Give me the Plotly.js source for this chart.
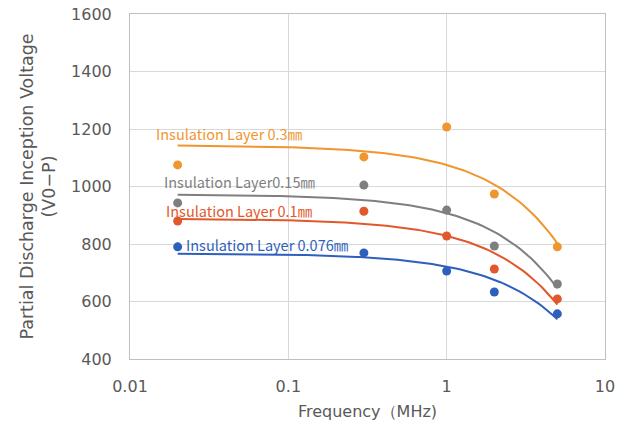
<!DOCTYPE html>
<html><head><meta charset="utf-8">
<script src="https://cdn.plot.ly/plotly-3.0.1.min.js"></script>
<style>body{margin:0;background:#fff}#c{width:630px;height:428px}</style>
</head><body><div id="c"></div>
<script>
const freq = [0.02, 0.3, 1, 2, 5];
const seriesNames = ['Insulation Layer 0.3㎜', 'Insulation Layer0.15㎜', 'Insulation Layer 0.1㎜', 'Insulation Layer 0.076㎜'];
const v03 = [1075, 1103, 1207, 974, 790];
const v015 = [943, 1005, 918, 793, 661];
const v01 = [880, 914, 828, 713, 609];
const v0076 = [790, 769, 706, 633, 557];
const colors = ['#F0962E', '#7F7F7F', '#E0582C', '#2F5FBD'];
const labelPos = [[0.0141, 1186], [0.0159, 1016], [0.0163, 918], [0.022, 797]];

function fit(x, y) {
  const n = x.length;
  const mx = x.reduce((a, b) => a + b) / n, my = y.reduce((a, b) => a + b) / n;
  let sxx = 0, sxy = 0;
  for (let i = 0; i < n; i++) { sxx += (x[i] - mx) ** 2; sxy += (x[i] - mx) * (y[i] - my); }
  const b = sxy / sxx; return [my - b * mx, b];
}
const all = [v03, v015, v01, v0076];
const traces = [];
const lx = [];
const x0 = Math.log10(freq[0]), x1 = Math.log10(freq[freq.length - 1]);
for (let i = 0; i <= 100; i++) lx.push(Math.pow(10, x0 + (x1 - x0) * i / 100));
all.forEach((vals, k) => {
  const [a, b] = fit(freq, vals);
  traces.push({x: lx, y: lx.map(v => a + b * v), mode: 'lines', line: {color: colors[k], width: 2}, hoverinfo: 'skip', showlegend: false});
  traces.push({x: freq, y: vals, mode: 'markers', marker: {color: colors[k], size: 9}, name: seriesNames[k], showlegend: false});
});
const annotations = seriesNames.map((s, k) => ({
  x: Math.log10(labelPos[k][0]), y: labelPos[k][1], text: s, showarrow: false, xanchor: 'left',
  font: {family: 'Noto Sans CJK JP, Noto Sans, sans-serif', size: 14.5, color: colors[k]}
}));
const ax = {family: 'DejaVu Sans, Verdana, sans-serif', size: 16, color: '#595959'};
const yt = {family: 'DejaVu Sans, Verdana, sans-serif', size: 17.5, color: '#595959'};
Plotly.newPlot('c', traces, {
  width: 630, height: 428,
  margin: {l: 130, r: 25, t: 14, b: 69},
  paper_bgcolor: '#fff', plot_bgcolor: '#fff',
  font: ax,
  xaxis: {type: 'log', range: [-2, 1], tickvals: [0.01, 0.1, 1, 10], ticktext: ['0.01', '0.1', '1', '10'],
    gridcolor: '#D9D9D9', showline: true, linecolor: '#BFBFBF', mirror: true, ticks: '', zeroline: false,
    ticklabelstandoff: 13,
    title: {text: 'Frequency（MHz)', font: ax, standoff: 10}, tickfont: ax},
  yaxis: {range: [400, 1600], dtick: 200, gridcolor: '#D9D9D9', showline: true, linecolor: '#BFBFBF', mirror: true,
    ticks: '', zeroline: false, ticklabelstandoff: 14,
    title: {text: 'Partial Discharge Inception Voltage<br>(V0−P)', font: yt, standoff: 10}, tickfont: ax},
  annotations: annotations
}, {displayModeBar: false});
</script></body></html>
